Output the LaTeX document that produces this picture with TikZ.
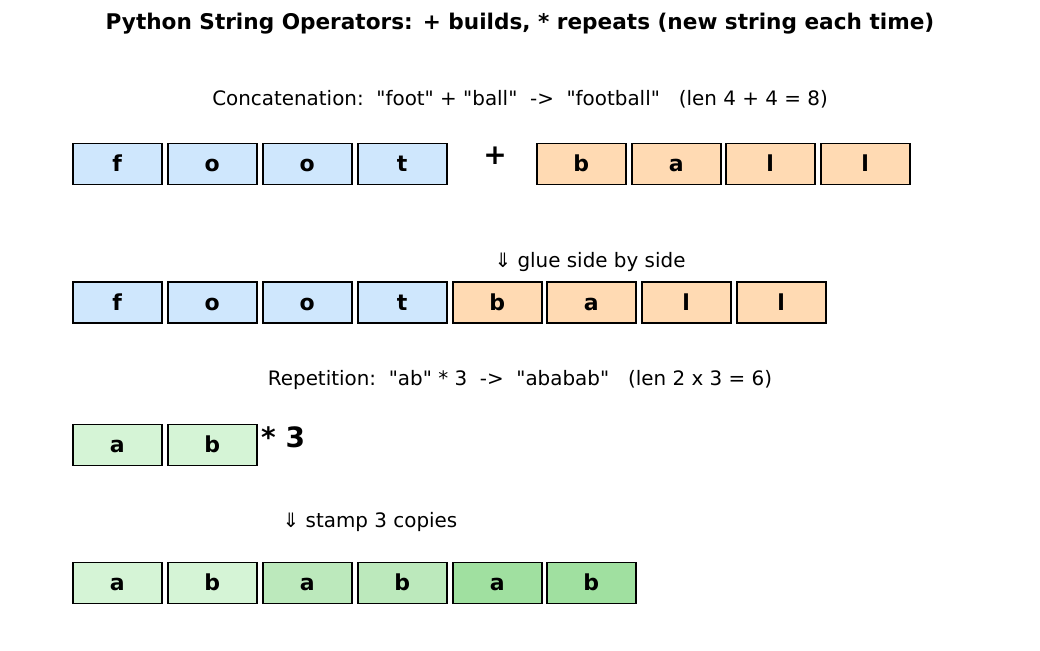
\documentclass[tikz,border=0pt]{standalone}
\usepackage{fontspec}
\setmainfont{DejaVu Sans}
\newcommand{\qq}{\textquotedbl}
\definecolor{cblue}{HTML}{CFE7FD}
\definecolor{corange}{HTML}{FFDAB3}
\definecolor{cg1}{HTML}{D5F4D6}
\definecolor{cg2}{HTML}{BCE9BC}
\definecolor{cg3}{HTML}{A0E0A0}
\begin{document}
\begin{tikzpicture}[x=1pt,y=-1pt,
  cell/.style={draw=black,line width=1.5pt,minimum width=89pt,minimum height=41pt,inner sep=0pt,text height=16pt,text depth=0pt,font=\fontsize{22}{22}\selectfont\bfseries,anchor=north west},
  lbl/.style={font=\fontsize{19.9}{20}\selectfont,inner sep=0pt},
  big/.style={font=\fontsize{28}{28}\selectfont\bfseries,inner sep=0pt}]
\useasboundingbox (0,0) rectangle (1040,650);
\node[font=\fontsize{21.6}{22}\selectfont\bfseries,inner sep=0pt] (title) at (520,23.5) {Python String Operators: + builds, * repeats (new string each time)};
\node[lbl] (concat) at (520,99.5) {Concatenation:\ \ \qq foot\qq{} + \qq ball\qq\ \ ->\ \ \qq football\qq\ \ \ (len 4 + 4 = 8)};
% row 1
\node[cell,fill=cblue] (f1) at (72,142.5) {f};
\node[cell,fill=cblue] (o1) at (167,142.5) {o};
\node[cell,fill=cblue] (o2) at (262,142.5) {o};
\node[cell,fill=cblue] (t1) at (357,142.5) {t};
\node[big] (plus) at (495,156) {+};
\node[cell,fill=corange] (b1) at (536,142.5) {b};
\node[cell,fill=corange] (a1) at (631,142.5) {a};
\node[cell,fill=corange] (l1) at (725,142.5) {l};
\node[cell,fill=corange] (l2) at (820,142.5) {l};
\node[lbl] (glue) at (590,262.5) {⇓ glue side by side};
% row 2
\node[cell,fill=cblue] (rf) at (72,281) {f};
\node[cell,fill=cblue] (ro1) at (167,281) {o};
\node[cell,fill=cblue] (ro2) at (262,281) {o};
\node[cell,fill=cblue] (rt) at (357,281) {t};
\node[cell,fill=corange] (rb) at (452,281) {b};
\node[cell,fill=corange] (ra) at (546,281) {a};
\node[cell,fill=corange] (rl1) at (641,281) {l};
\node[cell,fill=corange] (rl2) at (736,281) {l};
\node[lbl] (rep) at (520,380.5) {Repetition:\ \ \qq ab\qq{} * 3\ \ ->\ \ \qq ababab\qq\ \ \ (len 2 x 3 = 6)};
% row 3
\node[cell,fill=cg1] (sa) at (72,423.5) {a};
\node[cell,fill=cg1] (sb) at (167,423.5) {b};
\node[big,anchor=west] (times) at (261,437) {* 3};
\node[lbl] (stamp) at (370,522.5) {⇓ stamp 3 copies};
% row 4
\node[cell,fill=cg1] (p1) at (72,561.5) {a};
\node[cell,fill=cg1] (p2) at (167,561.5) {b};
\node[cell,fill=cg2] (p3) at (262,561.5) {a};
\node[cell,fill=cg2] (p4) at (357,561.5) {b};
\node[cell,fill=cg3] (p5) at (452,561.5) {a};
\node[cell,fill=cg3] (p6) at (546,561.5) {b};
\end{tikzpicture}
\end{document}
